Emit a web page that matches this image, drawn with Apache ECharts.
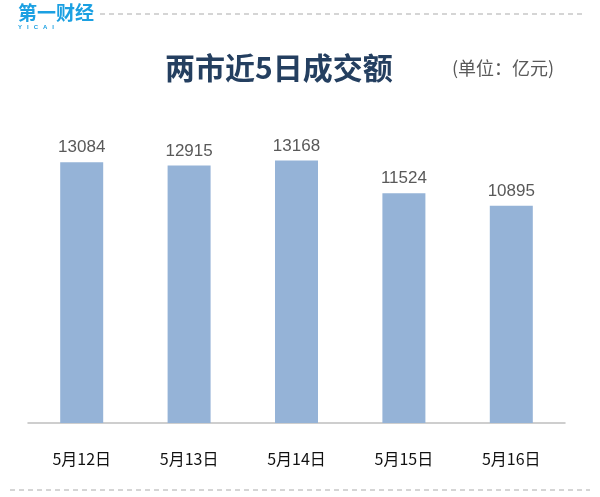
<!DOCTYPE html>
<html><head><meta charset="utf-8">
<script src="https://cdn.jsdelivr.net/npm/echarts@6/dist/echarts.min.js"></script>
<style>html,body{margin:0;padding:0;background:#fff}#c{width:600px;height:497px}</style>
</head><body><div id="c"></div>
<script>
const categories = ['5月12日','5月13日','5月14日','5月15日','5月16日'];
const values = [13084, 12915, 13168, 11524, 10895];
const titleText = '两市近5日成交额';
const unitText = '(单位：亿元)';

const chart = echarts.init(document.getElementById('c'));
chart.setOption({
  backgroundColor: '#fff',
  animation: false,
  grid: {left: 28, right: 35, top: 124, bottom: 74},
  xAxis: {
    type: 'category', data: categories,
    axisLine: {lineStyle: {color: '#bfbfbf', width: 1.5}},
    axisTick: {show: false},
    axisLabel: {color: '#111', fontSize: 16, margin: 28, fontFamily: 'Noto Sans CJK SC'}
  },
  yAxis: {type: 'value', min: 0, max: 15000, show: false, splitLine: {show: false}},
  series: [{
    type: 'bar', data: values, barWidth: 43,
    itemStyle: {color: '#95b3d7'},
    label: {show: true, position: 'top', distance: 6, color: '#595959', fontSize: 17, fontFamily: 'Liberation Sans'}
  }],
  graphic: [
    {type: 'text', left: 18, top: 3, style: {text: '第一财经', fill: '#1ba0e2', font: 'bold 19px "Noto Sans CJK SC"'}},
    {type: 'text', left: 18, top: 24, style: {text: 'Y   I   C   A   I', fill: '#1ba0e2', font: 'bold 6px "Liberation Sans"'}},
    {type: 'line', shape: {x1: 100, y1: 14, x2: 586, y2: 14}, style: {stroke: '#c8c8c8', lineWidth: 1.5, lineDash: [5, 4]}},
    {type: 'line', shape: {x1: 10, y1: 490, x2: 590, y2: 490}, style: {stroke: '#c8c8c8', lineWidth: 1.5, lineDash: [5, 4]}},
    {type: 'text', left: 165, top: 53, style: {text: titleText, fill: '#243f60', font: 'bold 30px "Noto Sans CJK SC"'}},
    {type: 'text', left: 452, top: 59, style: {text: unitText, fill: '#595959', font: '18px "Noto Sans CJK SC"'}}
  ]
});
</script></body></html>
